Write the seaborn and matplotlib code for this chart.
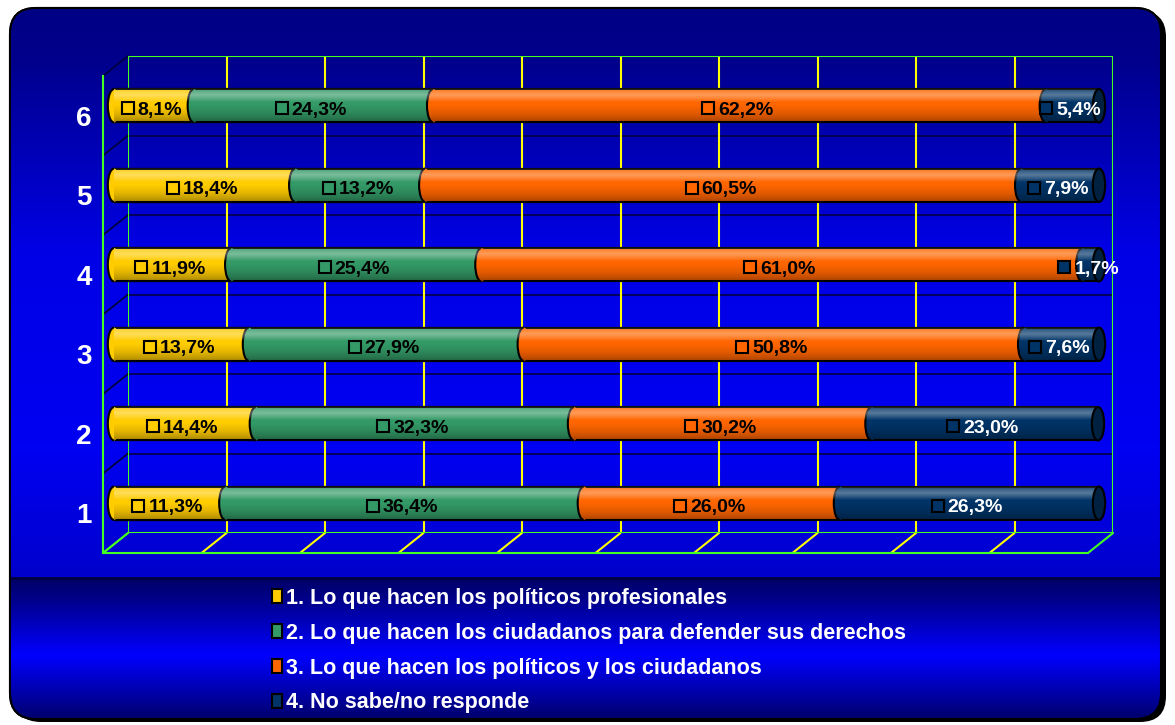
import numpy as np
import pandas as pd
import matplotlib
matplotlib.use("Agg")
import matplotlib.pyplot as plt
import seaborn as sns
from matplotlib.patches import FancyBboxPatch, Ellipse, Arc, Patch

# ---------------- data ----------------
categories = ["6", "5", "4", "3", "2", "1"]
series_names = [
    "1. Lo que hacen los políticos profesionales",
    "2. Lo que hacen los ciudadanos para defender sus derechos",
    "3. Lo que hacen los políticos y los ciudadanos",
    "4. No sabe/no responde",
]
politicos = [8.1, 18.4, 11.9, 13.7, 14.4, 11.3]
ciudadanos = [24.3, 13.2, 25.4, 27.9, 32.3, 36.4]
ambos = [62.2, 60.5, 61.0, 50.8, 30.2, 26.0]
nsnr = [5.4, 7.9, 1.7, 7.6, 23.0, 26.3]
colors = ["#FFCC00", "#339966", "#FF6600", "#003366"]
cap_color = "#00213F"
grid_yellow = "#FFFF00"
grid_green = "#44FF22"

sns.set_theme(style="white")
plt.rcParams["font.family"] = ["Liberation Sans", "DejaVu Sans"]
plt.rcParams["font.weight"] = "bold"

cols = ["p", "c", "a", "n"]
df = pd.DataFrame({"cat": categories, "p": politicos, "c": ciudadanos,
                   "a": ambos, "n": nsnr})
cum = df[cols].cumsum(axis=1)
for col in cols:
    df["cum_" + col] = cum[col]

W, H = 1175, 725
fig = plt.figure(figsize=(W / 100, H / 100), dpi=100)
fig.patch.set_facecolor("white")


def frac(x0, y0, x1, y1):
    return [x0 / W, 1 - y1 / H, (x1 - x0) / W, (y1 - y0) / H]


# ---------------- background ----------------
ax_bg = fig.add_axes([0, 0, 1, 1])
ax_bg.set_xlim(0, W)
ax_bg.set_ylim(H, 0)
ax_bg.axis("off")


def vgrad(y0, y1, stops):
    ys = np.linspace(y0, y1, 300)
    sy = [s[0] for s in stops]
    b = np.interp(ys, sy, [s[1] for s in stops])
    img = np.zeros((300, 1, 3))
    img[:, 0, 2] = b
    return img


px0, py0, px1, py1 = 10, 8, 1161, 719
shadow = FancyBboxPatch((px0 + 5, py0 + 3), px1 - px0, py1 - py0,
                        boxstyle="round,pad=0,rounding_size=26",
                        fc="black", ec="none", zorder=0)
ax_bg.add_patch(shadow)
panel = FancyBboxPatch((px0, py0), px1 - px0, py1 - py0,
                       boxstyle="round,pad=0,rounding_size=26",
                       fc="#000090", ec="black", lw=1.5, zorder=1)
ax_bg.add_patch(panel)
im = ax_bg.imshow(vgrad(py0, 578, [(8, 0.52), (60, 0.55), (250, 0.90),
                                   (450, 0.95), (578, 0.80)]),
                  extent=(px0, px1, 578, py0), origin="upper",
                  aspect="auto", zorder=1.5)
im.set_clip_path(panel)
im2 = ax_bg.imshow(vgrad(578, py1, [(578, 0.40), (600, 0.55), (655, 1.0),
                                    (700, 0.60), (719, 0.42)]),
                   extent=(px0, px1, py1, 578), origin="upper",
                   aspect="auto", zorder=1.5)
im2.set_clip_path(panel)
ax_bg.plot([px0, px1 - 2], [578, 578], color="#000040", lw=2, zorder=2)
ax_bg.add_patch(FancyBboxPatch((px0, py0), px1 - px0, py1 - py0,
                               boxstyle="round,pad=0,rounding_size=26",
                               fc="none", ec="black", lw=1.5, zorder=3))

# ---------------- axes (3D planes) ----------------
wall = (128, 56, 1113, 533)
dx, dy = -14, 10    # bars at mid depth
fx, fy = -25, 20    # front plane
ax_wall = fig.add_axes(frac(*wall))
ax_bar = fig.add_axes(frac(wall[0] + dx, wall[1] + dy, wall[2] + dx, wall[3] + dy))
ax_front = fig.add_axes(frac(wall[0] + fx, wall[1] + fy, wall[2] + fx, wall[3] + fy))
for a in (ax_wall, ax_bar, ax_front):
    a.set_facecolor("none")

ax_wall.set_xlim(0, 100)
ax_wall.set_ylim(5.5, -0.5)
ax_wall.axis("off")
for k in range(11):
    ax_wall.axvline(k * 10, color=grid_green if k in (0, 10) else grid_yellow,
                    lw=1.5, zorder=1)
for j in range(1, 6):
    ax_wall.axhline(j - 0.5, color="#000050", lw=1.3, zorder=0.5)
ax_wall.axhline(-0.5, color=grid_green, lw=1.5)
ax_wall.axhline(5.5, color=grid_green, lw=1.5)

# ---------------- bars ----------------
bar_w = 0.42
for col, color in reversed(list(zip(cols, colors))):
    sns.barplot(data=df, x="cum_" + col, y="cat", order=categories,
                orient="h", color=color, saturation=1, width=bar_w,
                edgecolor="black", linewidth=1.5, ax=ax_bar)
ax_bar.set_xlim(0, 100)
ax_bar.set_ylim(5.5, -0.5)
ax_bar.axis("off")

cap_w = 1.25
t_arr = np.linspace(0, 1, 60)
white_a = np.interp(t_arr, [0, 0.08, 0.2, 0.3, 0.42, 1], [0.05, 0.22, 0.35, 0.2, 0.0, 0.0])
black_a = np.interp(t_arr, [0, 0.5, 0.75, 1], [0.0, 0.0, 0.12, 0.32])
overlay = np.zeros((60, 1, 4))
overlay[:, 0, :3] = np.where(white_a[:, None] > 0, 1.0, 0.0)
overlay[:, 0, 3] = white_a + black_a

for i in range(len(categories)):
    vals = df.loc[i, cols].to_numpy(dtype=float)
    bounds = np.concatenate([[0], np.cumsum(vals)])
    # curved left ends of each segment
    for k in range(4):
        b = bounds[k]
        ax_bar.add_patch(Ellipse((b, i), cap_w, bar_w, fc=colors[k], ec="none",
                                 zorder=1.5, clip_on=False))
        ax_bar.add_patch(Arc((b, i), cap_w, bar_w, theta1=90, theta2=270,
                             color="black", lw=1.5, zorder=1.6, clip_on=False))
    ax_bar.imshow(overlay, extent=(0, bounds[-1], i + bar_w / 2, i - bar_w / 2),
                  origin="upper", aspect="auto", zorder=3)
    ax_bar.add_patch(Ellipse((bounds[-1], i), cap_w, bar_w, fc=cap_color,
                             ec="black", lw=1.5, zorder=3.5, clip_on=False))
ax_bar.set_xlim(0, 100)
ax_bar.set_ylim(5.5, -0.5)

# labels
texts = []
for i in range(len(categories)):
    left = 0.0
    for col, color in zip(cols, colors):
        v = float(df.loc[i, col])
        cx = left + v / 2
        txt = f"{v:.1f}".replace(".", ",") + "%"
        tc = "white" if col == "n" else "black"
        t = ax_bar.annotate(txt, (cx, i), xytext=(6, -2.5), textcoords="offset pixels",
                            ha="center", va="center_baseline", fontsize=14,
                            fontweight="bold", color=tc, zorder=6,
                            annotation_clip=False)
        texts.append((t, i, color))
        left += v

fig.canvas.draw()
renderer = fig.canvas.get_renderer()
inv = ax_bar.transData.inverted()
for t, i, color in texts:
    bb = t.get_window_extent(renderer)
    _, ypix = ax_bar.transData.transform((0, i))
    mx, my = inv.transform((bb.x0 - 10, ypix - 2.5))
    ax_bar.plot([mx], [my], marker="s", ms=9, mfc=color, mec="black",
                mew=1.5, zorder=6, ls="none", clip_on=False)

# ---------------- front axis ----------------
ax_front.set_xlim(0, 100)
ax_front.set_ylim(5.5, -0.5)
for s in ("top", "right", "bottom"):
    ax_front.spines[s].set_visible(False)
ax_front.spines["left"].set_color(grid_green)
ax_front.spines["left"].set_linewidth(1.5)
ax_front.set_xticks([])
ax_front.set_yticks(range(len(categories)))
ax_front.set_yticklabels(categories, color="white", fontsize=20, fontweight="bold")
ax_front.set_yticks([j - 0.5 for j in range(len(categories) + 1)], minor=True)
ax_front.tick_params(axis="y", which="major", length=0, pad=8)
ax_front.tick_params(axis="y", which="minor", length=6, direction="inout",
                     color=grid_green, width=1.5)

# depth lines (diagonals and floor)
fig.canvas.draw()


def wall_px(x, y):
    X, Y = ax_wall.transData.transform((x, y))
    return X, H - Y


for j in range(len(categories) + 1):
    yb = j - 0.5
    x0p, y0p = wall_px(0, yb)
    c = grid_green if j == len(categories) else "#000040"
    ax_bg.plot([x0p, x0p + fx], [y0p, y0p + fy], color=c, lw=1.3, zorder=4)
for k in range(11):
    x0p, y0p = wall_px(k * 10, 5.5)
    c = grid_green if k in (0, 10) else grid_yellow
    ax_bg.plot([x0p, x0p + fx], [y0p, y0p + fy], color=c, lw=1.5, zorder=4)
xa, ya = wall_px(0, 5.5)
xb, yb_ = wall_px(100, 5.5)
ax_bg.plot([xa + fx, xb + fx], [ya + fy, yb_ + fy], color=grid_green, lw=1.5, zorder=4)

# ---------------- legend ----------------
handles = [Patch(fc=c, ec="black", lw=1.5) for c in colors]
fig.legend(handles, series_names, loc="upper left",
           bbox_to_anchor=(272 / W, 1 - 588 / H), frameon=False,
           prop={"size": 15.5, "weight": "bold"}, labelcolor="white",
           handlelength=0.45, handleheight=0.62, handletextpad=0.2,
           labelspacing=0.64, borderpad=0, borderaxespad=0)

fig.savefig("out.png", dpi=100, facecolor="white")
